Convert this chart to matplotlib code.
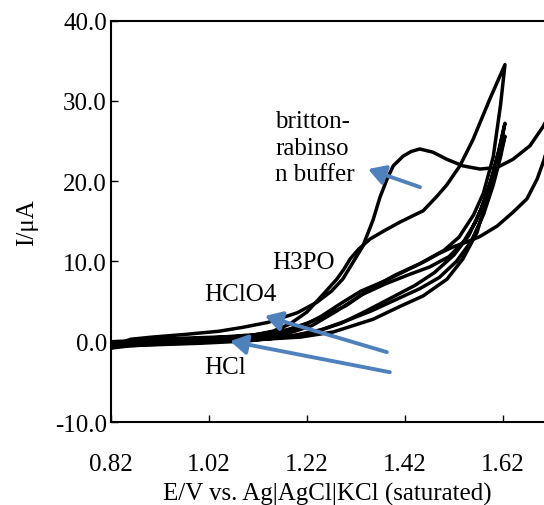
import matplotlib
matplotlib.use("Agg")
import matplotlib.pyplot as plt

# Cyclic voltammograms (potential E in V, current I in uA), forward then reverse sweep
br_E = [0.82, 0.86, 0.90, 0.97, 1.04, 1.09, 1.14, 1.20, 1.24, 1.27, 1.293, 1.31, 1.334,
        1.355, 1.369, 1.383, 1.396, 1.416, 1.433, 1.45, 1.477, 1.506, 1.538, 1.573, 1.608,
        1.64, 1.675, 1.702, 1.72,
        1.715, 1.704, 1.69, 1.669, 1.64, 1.608, 1.573, 1.545, 1.518, 1.49, 1.46, 1.42, 1.38,
        1.33, 1.29, 1.25, 1.21, 1.15, 1.08, 1.00, 0.92, 0.86, 0.82]
br_I = [-0.6, 0.3, 0.55, 0.9, 1.3, 1.8, 2.4, 3.6, 4.9, 6.3, 7.8, 9.5, 11.9,
        15.2, 18.0, 20.2, 21.9, 23.1, 23.7, 24.0, 23.6, 22.7, 21.9, 21.5, 21.7,
        22.7, 24.4, 26.8, 29.0,
        25.5, 22.7, 20.3, 17.8, 16.1, 14.4, 13.1, 12.4, 11.8, 11.0, 10.0, 8.8, 7.6,
        6.3, 4.8, 3.2, 1.9, 0.9, 0.3, -0.1, -0.3, -0.5, -0.8]

h3po4_E = [0.82, 0.86, 0.95, 1.05, 1.12, 1.18, 1.22, 1.26, 1.30, 1.35, 1.40, 1.45, 1.50,
           1.53, 1.56, 1.58, 1.60, 1.615, 1.624,
           1.593, 1.559, 1.532, 1.505, 1.485, 1.457, 1.43, 1.41, 1.38, 1.349, 1.325,
           1.308, 1.295, 1.281, 1.253, 1.22, 1.185, 1.15, 1.10, 1.00, 0.90, 0.82]
h3po4_I = [-0.7, 0.2, 0.4, 0.6, 0.9, 1.5, 2.3, 3.3, 4.5, 6.6, 8.3, 9.7, 11.4,
           13.0, 15.8, 18.5, 23.0, 29.5, 34.5,
           30.2, 25.2, 21.9, 19.5, 18.1, 16.3, 15.5, 14.9, 13.9, 12.8, 11.5,
           10.3, 9.0, 7.8, 5.9, 3.7, 2.2, 1.3, 0.7, 0.4, 0.2, 0.0]

hclo4_E = [0.82, 0.86, 1.00, 1.10, 1.18, 1.24, 1.29, 1.34, 1.39, 1.44, 1.48, 1.52, 1.55,
           1.575, 1.595, 1.61, 1.624,
           1.615, 1.60, 1.585, 1.565, 1.54, 1.51, 1.47, 1.43, 1.38, 1.33, 1.28, 1.23,
           1.18, 1.10, 1.00, 0.90, 0.82]
hclo4_I = [-0.5, 0.1, 0.2, 0.3, 0.6, 1.3, 2.3, 3.8, 5.4, 7.0, 8.6, 10.8, 13.2,
           16.5, 20.0, 23.5, 27.2,
           24.5, 21.0, 18.0, 15.0, 12.5, 10.6, 9.3, 8.4, 7.2, 5.8, 3.8, 2.0,
           1.0, 0.3, -0.1, -0.3, -0.4]

hcl_E = [0.82, 0.85, 1.00, 1.10, 1.206, 1.273, 1.355, 1.41, 1.457, 1.506, 1.538, 1.567,
         1.587, 1.605, 1.624,
         1.615, 1.60, 1.58, 1.555, 1.525, 1.49, 1.45, 1.40, 1.35, 1.30, 1.25, 1.18,
         1.10, 1.00, 0.90, 0.82]
hcl_I = [-0.8, 0.0, 0.1, 0.2, 0.57, 1.2, 2.8, 4.4, 5.7, 7.8, 10.3, 13.6,
         17.8, 21.5, 25.6,
         23.0, 19.5, 15.8, 12.5, 10.0, 8.0, 6.6, 5.2, 3.8, 2.6, 1.5, 0.6,
         0.1, -0.2, -0.4, -0.6]

x_ticks = [0.82, 1.02, 1.22, 1.42, 1.62]
y_ticks = [-10, 0, 10, 20, 30, 40]

plt.rcParams["font.family"] = ["Liberation Serif", "DejaVu Serif"]
plt.rcParams["axes.unicode_minus"] = False

FS = 18
W, H = 544, 506
fig = plt.figure(figsize=(W / 100, H / 100), dpi=100)
ax = fig.add_axes([111 / W, 83 / H, (W - 111) / W, (423 - 21.5) / H])

for E, I in [(br_E, br_I), (h3po4_E, h3po4_I), (hclo4_E, hclo4_I), (hcl_E, hcl_I)]:
    ax.plot(E, I, color="black", lw=2.5, solid_joinstyle="round", solid_capstyle="round")

ax.set_xlim(0.82, 0.82 + (W - 111) / 490)
ax.set_ylim(-10, 40)
ax.set_xticks(x_ticks)
ax.set_xticklabels([f"{v:.2f}" for v in x_ticks])
ax.set_yticks(y_ticks)
ax.set_yticklabels([f"{v:.1f}" for v in y_ticks])

ax.spines["right"].set_visible(False)
for s in ["left", "bottom", "top"]:
    ax.spines[s].set_linewidth(1.5)
ax.tick_params(axis="both", direction="in", length=5, width=1.0, labelsize=FS)
ax.tick_params(axis="x", pad=22)
ax.tick_params(axis="y", pad=3)

ax.set_xlabel("E/V vs. Ag|AgCl|KCl (saturated)", fontsize=FS, labelpad=5)
ax.set_ylabel("I/\u03bcA", fontsize=FS, labelpad=12)

# Annotations
blue = "#4F81BD"
arrow = dict(arrowstyle="-|>,head_length=0.6,head_width=0.35", color=blue, lw=2.8,
             shrinkA=0, shrinkB=0, mutation_scale=17)
ax.annotate("", xy=(1.3445, 21.5), xytext=(1.4506, 19.25), arrowprops=arrow)
ax.annotate("", xy=(1.134, 3.2), xytext=(1.383, -1.3), arrowprops=arrow)
ax.annotate("", xy=(1.063, 0.07), xytext=(1.389, -3.8), arrowprops=arrow)

ax.text(1.155, 28.8, "britton-\nrabinso\nn buffer", fontsize=FS, va="top", ha="left",
        linespacing=1.25)
ax.text(1.149, 9.9, "H3PO", fontsize=FS, va="center", ha="left")
ax.text(1.010, 5.9, "HClO4", fontsize=FS, va="center", ha="left")
ax.text(1.010, -3.2, "HCl", fontsize=FS, va="center", ha="left")

fig.savefig("out.png", dpi=100)
